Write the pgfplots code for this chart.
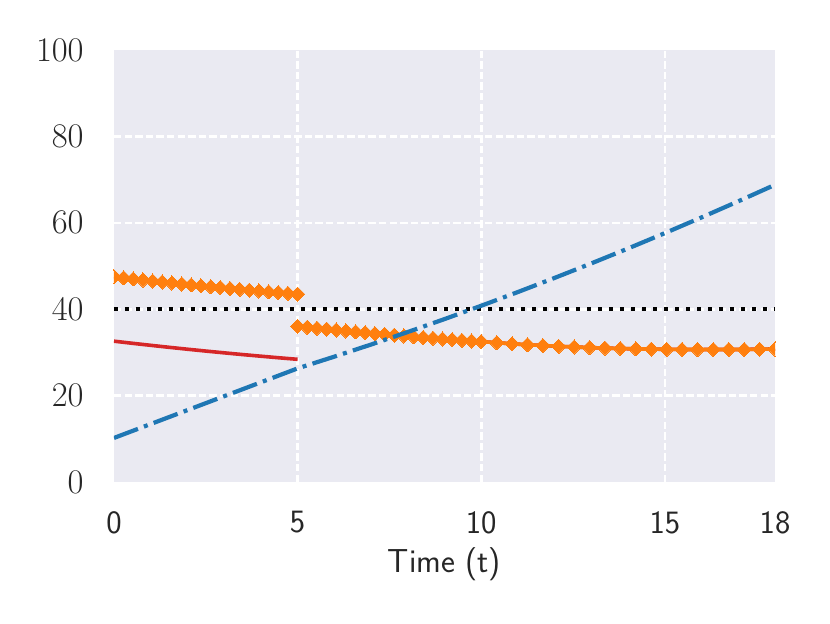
\documentclass[border=0pt]{standalone}
\usepackage{fontspec}
\usepackage{pgfplots}
\pgfplotsset{compat=1.18}
\definecolor{bg}{HTML}{EAEAF2}
\definecolor{mblue}{HTML}{1F77B4}
\definecolor{morange}{HTML}{FF7F0E}
\definecolor{mred}{HTML}{D62728}
\definecolor{txt}{HTML}{262626}
\begin{document}
\begin{tikzpicture}
\useasboundingbox (-57pt,-70.5pt) rectangle (358pt,241pt);
\begin{axis}[
  scale only axis, width=330.5pt, height=216pt,
  xmin=0, xmax=18, ymin=0, ymax=100,
  xtick={5,10,15}, xticklabels={5,10,15},
  extra x ticks={0,18}, extra x tick labels={0,18},
  extra x tick style={xmajorgrids=false},
  ytick={20,40,60,80},
  extra y ticks={0,100},
  extra y tick style={ymajorgrids=false},
  axis background/.style={fill=bg},
  axis line style={draw=none},
  major tick length=0pt,
  clip marker paths=true,
  xmajorgrids, ymajorgrids,
  major grid style={white, line width=1.3pt, dash pattern=on 3.7pt off 1.6pt},
  tick label style={font=\fontsize{16.3}{19}\selectfont, text=txt},
  xticklabel style={font=\sffamily\fontsize{16.3}{19}\selectfont, inner sep=0pt, anchor=north, yshift=-14.5pt},
  yticklabel style={inner sep=0pt, anchor=east, xshift=-15pt},
  xlabel={Time (t)},
  xlabel style={font=\sffamily\fontsize{16.6}{19}\selectfont, text=txt, at={(axis description cs:0.5,0)}, anchor=north, inner sep=0pt, yshift=-32.5pt},
]
% black dotted reference
\addplot[black, line width=2pt, dash pattern=on 2pt off 3.5pt] coordinates {(0,40) (18,40)};
% red solid
\addplot[mred, line width=1.8pt] coordinates {
(0,32.6) (0.5,32.11) (1,31.64) (1.5,31.18) (2,30.74) (2.5,30.31) (3,29.9) (3.5,29.5) (4,29.12) (4.5,28.75) (5,28.4)};
\addplot[mred, line width=1.8pt] coordinates {
(5,36.05) (6,35.2) (7,34.45) (8,33.7) (9,33.1) (10,32.5) (11,31.9) (12,31.45) (13,31.1) (14,30.85) (15,30.72) (16,30.66) (17,30.68) (18,30.8)};
% orange diamonds
\addplot[morange, line width=1.8pt, mark=square*, mark size=2.5pt, mark options={solid, rotate=45, fill=morange, draw=morange, line width=0pt}] coordinates {
(0,47.50) (0.263,47.25) (0.526,47.01) (0.789,46.77) (1.053,46.53) (1.316,46.30) (1.579,46.08) (1.842,45.85) (2.105,45.63) (2.368,45.42)
(2.632,45.21) (2.895,45.00) (3.158,44.80) (3.421,44.60) (3.684,44.41) (3.947,44.22) (4.211,44.03) (4.474,43.85) (4.737,43.67) (5,43.50)};
\addplot[morange, line width=1.8pt, mark=square*, mark size=2.5pt, mark options={solid, rotate=45, fill=morange, draw=morange, line width=0pt}] coordinates {
(5,36.05) (5.263,35.83) (5.526,35.61) (5.789,35.39) (6.053,35.18) (6.316,34.97) (6.579,34.77) (6.842,34.57) (7.105,34.37) (7.368,34.18)
(7.632,33.99) (7.895,33.81) (8.158,33.63) (8.421,33.46) (8.684,33.29) (8.947,33.12) (9.211,32.96) (9.474,32.80) (9.737,32.65) (10,32.50)
(10.42,32.25) (10.84,32.0) (11.26,31.78) (11.68,31.6) (12.11,31.41) (12.53,31.26) (12.95,31.12) (13.37,31.0) (13.79,30.9) (14.21,30.82)
(14.63,30.77) (15.05,30.72) (15.47,30.69) (15.89,30.67) (16.32,30.66) (16.74,30.67) (17.16,30.69) (17.58,30.73) (18,30.8)};
% blue dash-dot
\addplot[mblue, line width=2.1pt, dash pattern=on 12.8pt off 3.2pt on 2pt off 3.2pt] coordinates {
(0,10.2) (5,26.3) (6,29.02) (7,31.82) (8,34.72) (9,37.71) (10,40.80) (11,43.98) (12,47.25) (13,50.61) (14,54.06) (15,57.61) (16,61.25) (17,64.98) (18,68.80)};
\end{axis}
\end{tikzpicture}
\end{document}
